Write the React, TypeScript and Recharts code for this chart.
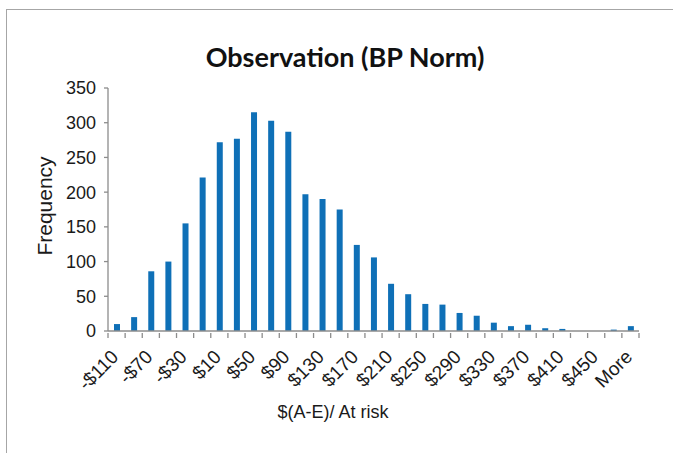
import { BarChart, Bar, XAxis, YAxis } from "recharts";

const bins = [
  "-$110", "-$90", "-$70", "-$50", "-$30", "-$10", "$10", "$30", "$50", "$70",
  "$90", "$110", "$130", "$150", "$170", "$190", "$210", "$230", "$250", "$270",
  "$290", "$310", "$330", "$350", "$370", "$390", "$410", "$430", "$450", "$470",
  "More",
];

const frequency = [
  10, 20, 86, 100, 155, 221, 272, 277, 315, 303,
  287, 197, 190, 175, 124, 106, 68, 53, 39, 38,
  26, 22, 12, 7, 9, 4, 3, 0, 0, 2,
  7,
];

const yTicks = [0, 50, 100, 150, 200, 250, 300, 350];

const data = bins.map((bin, i) => ({ bin, count: frequency[i] }));

const W = 673;
const H = 453;
const plotLeft = 108;
const plotRight = 639;
const plotTop = 88;
const plotBottom = 331;
const band = (plotRight - plotLeft) / bins.length;

const font = "'Liberation Sans', Arial, sans-serif";

function BinTick(props: any) {
  const { x, y, index, payload } = props;
  const left = x - band / 2;
  const ax = x + 3;
  const ay = y + 25;
  return (
    <g>
      <line x1={left} y1={y} x2={left} y2={y + 5} stroke="#8c8c8c" strokeWidth={1.3} />
      {index === bins.length - 1 && (
        <line x1={left + band} y1={y} x2={left + band} y2={y + 5} stroke="#8c8c8c" strokeWidth={1.3} />
      )}
      {index % 2 === 0 && (
        <text
          x={ax}
          y={ay}
          transform={`rotate(-45 ${ax} ${ay})`}
          textAnchor="end"
          fontSize={19}
          fontFamily={font}
          fill="#1a1a1a"
        >
          {payload.value}
        </text>
      )}
    </g>
  );
}

export default function App() {
  return (
    <div style={{ position: "fixed", left: 0, top: 0, width: W, height: H, background: "#fff" }}>
      <div
        style={{
          position: "absolute",
          left: 6,
          top: 9,
          width: W - 6,
          height: H - 9,
          borderLeft: "1.5px solid #a6a6a6",
          borderTop: "1.5px solid #a6a6a6",
        }}
      />
      <svg width={W} height={H} style={{ position: "absolute", left: 0, top: 0 }}>
        <text
          x={345}
          y={67}
          textAnchor="middle"
          fontFamily="Lato, sans-serif"
          fontWeight={700}
          fontSize={27}
          fill="#111"
        >
          Observation (BP Norm)
        </text>
        <text
          x={52}
          y={206}
          transform="rotate(-90 52 206)"
          textAnchor="middle"
          fontFamily={font}
          fontSize={21}
          fill="#1a1a1a"
        >
          Frequency
        </text>
        <text x={333} y={418} textAnchor="middle" fontFamily={font} fontSize={18} fill="#1a1a1a">
          $(A-E)/ At risk
        </text>
      </svg>
      <div style={{ position: "absolute", left: 0, top: 0 }}>
        <BarChart
          width={W}
          height={H}
          data={data}
          margin={{ top: plotTop, right: W - plotRight, bottom: 50, left: plotLeft - 60 }}
          barCategoryGap={0}
        >
          <XAxis
            dataKey="bin"
            interval={0}
            height={H - plotBottom - 50}
            axisLine={{ stroke: "#8c8c8c", strokeWidth: 1.3 }}
            tickLine={false}
            tickSize={0}
            tick={<BinTick />}
          />
          <YAxis
            width={60}
            domain={[0, 350]}
            ticks={yTicks}
            interval={0}
            axisLine={{ stroke: "#8c8c8c", strokeWidth: 1.3 }}
            tickLine={{ stroke: "#8c8c8c", strokeWidth: 1.3 }}
            tickSize={4}
            tickMargin={8}
            tick={{ fontSize: 18, fontFamily: font, fill: "#1a1a1a" }}
          />
          <Bar dataKey="count" fill="#0f70b7" barSize={6} isAnimationActive={false} />
        </BarChart>
      </div>
    </div>
  );
}
